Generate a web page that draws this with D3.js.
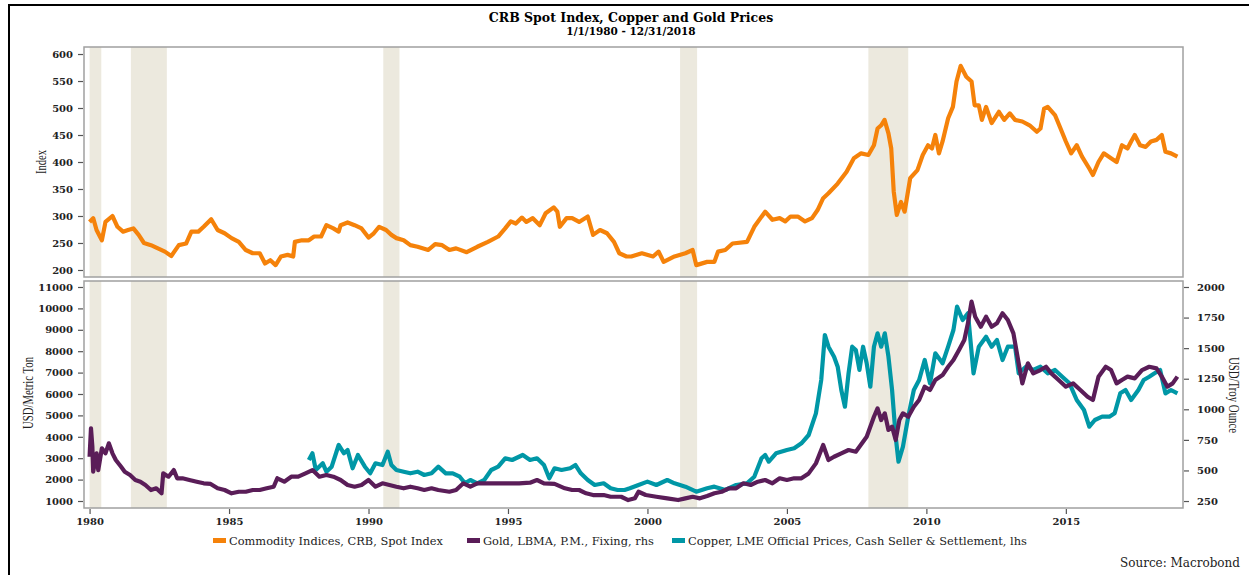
<!DOCTYPE html>
<html>
<head>
<meta charset="utf-8">
<script src="https://cdnjs.cloudflare.com/ajax/libs/d3/7.8.5/d3.min.js"></script>
<style>
  body { margin: 0; background: #fff; }
  svg { display: block; }
  .tick text { font-family: "DejaVu Serif", serif; font-weight: bold; font-size: 10px; fill: #222; }
  .tick line { stroke: #555; stroke-width: 1.2; }
</style>
</head>
<body>
<svg id="chart"></svg>
<script>
// values, [decimal year, value]
var crbSeries = [
  [1980.0,289],[1980.13,296],[1980.25,274],[1980.44,255],[1980.57,289],[1980.82,300],[1981.0,280],
  [1981.2,271],[1981.38,274],[1981.57,277],[1981.76,265],[1981.95,250],[1982.2,246],[1982.45,240],
  [1982.7,234],[1982.93,226],[1983.2,246],[1983.46,249],[1983.65,271],[1983.9,271],[1984.09,280],
  [1984.36,294],[1984.59,274],[1984.84,268],[1985.09,259],[1985.35,252],[1985.6,237],[1985.85,231],
  [1986.1,231],[1986.29,212],[1986.48,218],[1986.67,209],[1986.86,225],[1987.1,228],[1987.3,225],
  [1987.36,252],[1987.61,255],[1987.86,255],[1988.05,262],[1988.3,262],[1988.49,283],[1988.74,277],
  [1988.93,271],[1989.0,283],[1989.25,288],[1989.5,283],[1989.75,277],[1990.0,260],[1990.19,268],
  [1990.38,280],[1990.63,274],[1990.82,265],[1991.0,259],[1991.26,255],[1991.5,246],[1991.76,243],
  [1992.14,237],[1992.39,248],[1992.64,246],[1992.9,237],[1993.14,240],[1993.52,233],[1993.9,243],
  [1994.28,252],[1994.65,262],[1994.9,277],[1995.1,290],[1995.28,286],[1995.5,297],[1995.66,289],
  [1995.89,296],[1996.14,283],[1996.35,305],[1996.64,316],[1996.77,308],[1996.86,280],[1997.1,296],
  [1997.3,296],[1997.55,289],[1997.86,299],[1998.05,265],[1998.3,274],[1998.55,268],[1998.8,252],
  [1998.99,231],[1999.25,225],[1999.42,225],[1999.8,231],[2000.2,225],[2000.4,234],[2000.58,215],
  [2000.97,225],[2001.36,231],[2001.62,237],[2001.75,209],[2002.14,215],[2002.4,215],[2002.53,234],
  [2002.79,237],[2003.05,249],[2003.57,252],[2003.83,280],[2004.22,308],[2004.48,293],[2004.74,296],
  [2004.94,290],[2005.13,299],[2005.39,299],[2005.65,290],[2005.9,296],[2006.1,311],[2006.3,333],
  [2006.49,342],[2006.82,360],[2007.14,382],[2007.4,407],[2007.66,416],[2007.92,413],[2008.12,431],
  [2008.25,462],[2008.38,468],[2008.5,478],[2008.64,453],[2008.74,425],[2008.83,345],[2008.94,302],
  [2009.09,326],[2009.22,308],[2009.42,370],[2009.68,385],[2009.87,413],[2010.06,431],[2010.2,425],
  [2010.32,450],[2010.45,416],[2010.58,438],[2010.78,481],[2010.95,502],[2011.08,549],[2011.23,578],
  [2011.43,558],[2011.62,549],[2011.73,505],[2011.88,505],[2011.99,478],[2012.14,502],[2012.34,472],
  [2012.6,493],[2012.79,478],[2012.99,490],[2013.18,478],[2013.44,475],[2013.7,468],[2013.96,456],
  [2014.09,462],[2014.22,499],[2014.35,502],[2014.61,487],[2014.81,462],[2015.0,438],[2015.19,416],
  [2015.39,431],[2015.58,410],[2015.84,388],[2015.97,376],[2016.17,400],[2016.36,416],[2016.62,407],
  [2016.82,400],[2017.01,431],[2017.21,425],[2017.34,438],[2017.47,450],[2017.66,431],[2017.86,428],
  [2018.05,438],[2018.25,441],[2018.44,450],[2018.57,419],[2018.77,416],[2019.0,410]
];

var goldSeries = [
  [1980.0,612],[1980.05,845],[1980.1,694],[1980.13,490],[1980.25,640],[1980.31,503],[1980.44,681],
  [1980.57,640],[1980.69,722],[1980.82,640],[1980.94,585],[1981.13,530],[1981.26,490],[1981.45,463],
  [1981.64,422],[1981.82,408],[1982.0,381],[1982.2,340],[1982.39,354],[1982.58,313],[1982.64,476],
  [1982.83,449],[1983.02,503],[1983.14,436],[1983.33,436],[1983.58,422],[1983.84,408],[1984.09,395],
  [1984.34,390],[1984.59,354],[1984.84,340],[1985.09,313],[1985.35,326],[1985.6,326],[1985.85,340],
  [1986.1,340],[1986.35,354],[1986.6,367],[1986.73,436],[1986.98,408],[1987.23,449],[1987.48,449],
  [1987.74,476],[1987.99,503],[1988.24,449],[1988.49,463],[1988.74,449],[1989.0,422],[1989.25,381],
  [1989.5,367],[1989.75,381],[1990.0,422],[1990.25,367],[1990.5,395],[1990.75,381],[1991.0,367],
  [1991.26,354],[1991.5,367],[1991.76,354],[1992.0,340],[1992.26,354],[1992.5,340],[1992.9,326],
  [1993.14,340],[1993.4,395],[1993.65,367],[1993.9,395],[1994.28,395],[1994.65,395],[1995.03,395],
  [1995.4,395],[1995.79,400],[1996.04,422],[1996.29,395],[1996.67,390],[1997.04,354],[1997.3,340],
  [1997.55,340],[1997.8,313],[1998.05,299],[1998.43,299],[1998.68,285],[1999.06,285],[1999.31,258],
  [1999.55,272],[1999.68,326],[1999.94,299],[2000.32,285],[2000.71,272],[2001.1,258],[2001.36,272],
  [2001.62,285],[2001.88,272],[2002.14,291],[2002.4,313],[2002.66,326],[2002.92,354],[2003.18,354],
  [2003.44,395],[2003.7,381],[2003.96,408],[2004.22,422],[2004.48,395],[2004.74,436],[2005.0,422],
  [2005.26,436],[2005.52,436],[2005.78,476],[2006.04,558],[2006.3,708],[2006.49,585],[2006.69,612],
  [2006.95,640],[2007.21,667],[2007.47,653],[2007.6,694],[2007.86,776],[2008.12,939],[2008.25,1008],
  [2008.38,912],[2008.51,967],[2008.64,831],[2008.77,858],[2008.9,749],[2009.03,912],[2009.16,967],
  [2009.35,939],[2009.55,1021],[2009.74,1076],[2009.94,1185],[2010.13,1158],[2010.32,1240],
  [2010.58,1280],[2010.78,1348],[2010.97,1403],[2011.17,1485],[2011.36,1567],[2011.49,1703],
  [2011.62,1880],[2011.75,1757],[2011.95,1675],[2012.14,1757],[2012.34,1675],[2012.53,1703],
  [2012.73,1785],[2012.92,1730],[2013.12,1621],[2013.31,1376],[2013.44,1212],[2013.64,1376],
  [2013.83,1294],[2014.09,1321],[2014.29,1348],[2014.48,1294],[2014.74,1240],[2015.0,1185],
  [2015.26,1212],[2015.52,1158],[2015.78,1103],[2015.97,1076],[2016.17,1267],[2016.43,1348],
  [2016.62,1321],[2016.82,1212],[2017.01,1240],[2017.21,1267],[2017.47,1253],[2017.73,1321],
  [2017.99,1348],[2018.25,1335],[2018.44,1267],[2018.64,1185],[2018.83,1212],[2019.0,1267]
];

var copperSeries = [
  [1987.86,2916],[1987.99,3229],[1988.11,2449],[1988.36,2761],[1988.49,2369],[1988.68,2603],
  [1988.93,3617],[1989.12,3229],[1989.25,3383],[1989.43,2528],[1989.62,3150],[1989.87,2603],
  [1990.06,2294],[1990.25,2761],[1990.5,2682],[1990.69,3304],[1990.82,2682],[1991.0,2449],
  [1991.26,2369],[1991.5,2294],[1991.76,2369],[1992.0,2215],[1992.26,2294],[1992.5,2603],
  [1992.77,2294],[1993.02,2294],[1993.27,2136],[1993.46,1827],[1993.65,1981],[1993.9,1827],
  [1994.15,1981],[1994.4,2449],[1994.65,2603],[1994.9,2995],[1995.15,2916],[1995.53,3150],
  [1995.79,2916],[1996.04,2995],[1996.29,2682],[1996.48,2061],[1996.67,2528],[1996.92,2449],
  [1997.23,2528],[1997.42,2682],[1997.61,2294],[1997.86,1981],[1998.11,1748],[1998.43,1827],
  [1998.68,1593],[1998.93,1514],[1999.18,1514],[1999.37,1593],[1999.68,1748],[2000.0,1904],
  [2000.32,1748],[2000.71,1981],[2000.97,1827],[2001.36,1670],[2001.75,1436],[2002.14,1593],
  [2002.4,1670],[2002.79,1514],[2003.18,1748],[2003.57,1827],[2003.83,2136],[2004.09,2995],
  [2004.22,3150],[2004.35,2838],[2004.61,3229],[2005.0,3383],[2005.26,3462],[2005.52,3696],
  [2005.78,4084],[2006.04,5098],[2006.23,6654],[2006.36,8757],[2006.49,8210],[2006.69,7743],
  [2006.82,7276],[2006.95,6187],[2007.08,5407],[2007.21,6967],[2007.34,8210],[2007.47,8056],
  [2007.6,7122],[2007.73,8210],[2007.86,7435],[2007.99,6341],[2008.12,8210],[2008.25,8837],
  [2008.38,8210],[2008.51,8837],[2008.64,7743],[2008.77,6187],[2008.9,4005],[2009.0,2838],
  [2009.16,3540],[2009.35,4940],[2009.55,6187],[2009.74,6654],[2009.94,7589],[2010.13,6500],
  [2010.32,7900],[2010.58,7435],[2010.78,8210],[2010.97,8990],[2011.1,10080],[2011.3,9458],
  [2011.49,9770],[2011.69,6967],[2011.88,8210],[2012.14,8678],[2012.34,8210],[2012.53,8524],
  [2012.73,7589],[2012.92,8210],[2013.18,8210],[2013.31,6967],[2013.57,7276],[2013.83,7122],
  [2014.09,7276],[2014.35,6967],[2014.61,7122],[2014.87,6809],[2015.13,6500],[2015.39,5720],
  [2015.65,5252],[2015.84,4472],[2016.04,4785],[2016.3,4940],[2016.56,4940],[2016.75,5098],
  [2016.95,6031],[2017.14,6187],[2017.34,5720],[2017.6,6187],[2017.79,6654],[2017.99,6809],
  [2018.18,6967],[2018.38,7122],[2018.57,6031],[2018.77,6187],[2019.0,6031]
];

var recessions = [[1980.0,1980.42],[1981.48,1982.77],[1990.53,1991.11],[2001.17,2001.78],[2007.92,2009.35]];

var yearTicks = [1980,1985,1990,1995,2000,2005,2010,2015];
var crbTicks = [200,250,300,350,400,450,500,550,600];
var copperTicks = [1000,2000,3000,4000,5000,6000,7000,8000,9000,10000,11000];
var goldTicks = [250,500,750,1000,1250,1500,1750,2000];

var legendItems = [
  {name:"Commodity Indices, CRB, Spot Index", color:"#F5820A"},
  {name:"Gold, LBMA, P.M., Fixing, rhs", color:"#5A1D58"},
  {name:"Copper, LME Official Prices, Cash Seller & Settlement, lhs", color:"#0097A6"}
];

var width = 1249, height = 575;
var svg = d3.select("#chart").attr("width",width).attr("height",height);

var left = 84, right = 1183;
var top1 = 47, bot1 = 277, top2 = 281, bot2 = 508;

var xScale = d3.scaleLinear().domain([1979.8,2019.2]).range([left,right]);
var yCrb = d3.scaleLinear().domain([187,613]).range([bot1,top1]);
var yCopper = d3.scaleLinear().domain([673,11280]).range([bot2,top2]);
var yGold = d3.scaleLinear().domain([193,2049]).range([bot2,top2]);

// page frame
svg.append("line").attr("x1",8).attr("x2",width).attr("y1",5).attr("y2",5)
   .attr("stroke","#000").attr("stroke-width",2);
svg.append("line").attr("x1",9).attr("x2",9).attr("y1",5).attr("y2",height)
   .attr("stroke","#000").attr("stroke-width",2);

// titles
svg.append("text").attr("x",631).attr("y",22).attr("text-anchor","middle")
   .style("font-family","DejaVu Serif, serif").style("font-weight","bold").style("font-size","12.5px")
   .text("CRB Spot Index, Copper and Gold Prices");
svg.append("text").attr("x",631).attr("y",35).attr("text-anchor","middle")
   .style("font-family","DejaVu Serif, serif").style("font-weight","bold").style("font-size","10.5px")
   .text("1/1/1980 - 12/31/2018");

var drawPanel = function(y0,y1){
  var g = svg.append("g");
  g.selectAll("rect.rec")
   .data(recessions)
   .enter()
   .append("rect")
   .attr("x",function(d){return xScale(d[0])})
   .attr("width",function(d){return xScale(d[1])-xScale(d[0])})
   .attr("y",y0).attr("height",y1-y0)
   .attr("fill","#ECE9DE");
  return g;
}

drawPanel(top1,bot1);
drawPanel(top2,bot2);

var line = function(yS){
  return d3.line()
           .x(function(d){return xScale(d[0])})
           .y(function(d){return yS(d[1])});
}

var plot = svg.append("g");
plot.append("path").datum(crbSeries).attr("d",line(yCrb))
    .attr("fill","none").attr("stroke","#F5820A").attr("stroke-width",4.2).attr("stroke-linejoin","round");
plot.append("path").datum(copperSeries).attr("d",line(yCopper))
    .attr("fill","none").attr("stroke","#0097A6").attr("stroke-width",4.2).attr("stroke-linejoin","round");
plot.append("path").datum(goldSeries).attr("d",line(yGold))
    .attr("fill","none").attr("stroke","#5A1D58").attr("stroke-width",4.2).attr("stroke-linejoin","round");

// frames
svg.append("rect").attr("x",left).attr("y",top1).attr("width",right-left).attr("height",bot1-top1)
   .attr("fill","none").attr("stroke","#A0A0A0").attr("stroke-width",1.5);
svg.append("rect").attr("x",left).attr("y",top2).attr("width",right-left).attr("height",bot2-top2)
   .attr("fill","none").attr("stroke","#A0A0A0").attr("stroke-width",1.5);

// axes
var ax1 = svg.append("g").attr("transform","translate("+(left-1)+",0)")
   .call(d3.axisLeft(yCrb).tickValues(crbTicks).tickFormat(d3.format("d")).tickSize(5).tickPadding(5));
var ax2 = svg.append("g").attr("transform","translate("+(left-1)+",0)")
   .call(d3.axisLeft(yCopper).tickValues(copperTicks).tickFormat(d3.format("d")).tickSize(5).tickPadding(5));
var ax3 = svg.append("g").attr("transform","translate("+(right+1)+",0)")
   .call(d3.axisRight(yGold).tickValues(goldTicks).tickFormat(d3.format("d")).tickSize(5).tickPadding(8));
var ax4 = svg.append("g").attr("transform","translate(0,"+(bot2+1)+")")
   .call(d3.axisBottom(xScale).tickValues(yearTicks).tickFormat(d3.format("d")).tickSize(5).tickPadding(4));
[ax1,ax2,ax3,ax4].forEach(function(a){ a.select(".domain").remove(); });

// axis titles
var axisTitle = function(x,y,rot,txt,len){
  svg.append("text")
     .attr("transform","translate("+x+","+y+") rotate("+rot+")")
     .attr("text-anchor","middle")
     .attr("textLength",len).attr("lengthAdjust","spacingAndGlyphs")
     .style("font-family","Liberation Serif, serif").style("font-size","14px").style("fill","#222")
     .text(txt);
}
axisTitle(46,162,-90,"Index",24);
axisTitle(33,393,-90,"USD/Metric Ton",72);
axisTitle(1229,395,90,"USD/Troy Ounce",76);

// legend
var lx = [213,467,672];
var leg = svg.append("g").selectAll("g")
   .data(legendItems)
   .enter()
   .append("g")
   .attr("transform",function(d,i){return "translate("+lx[i]+",541)"});
leg.append("rect").attr("x",0).attr("y",-3).attr("width",13).attr("height",5)
   .attr("fill",function(d){return d.color});
leg.append("text").attr("x",16).attr("y",4)
   .style("font-family","DejaVu Serif, serif").style("font-size","11.4px").style("fill","#222")
   .text(function(d){return d.name});

svg.append("text").attr("x",1240).attr("y",567).attr("text-anchor","end")
   .style("font-family","DejaVu Serif, serif").style("font-size","12px").style("fill","#222")
   .text("Source: Macrobond");
</script>
</body>
</html>
